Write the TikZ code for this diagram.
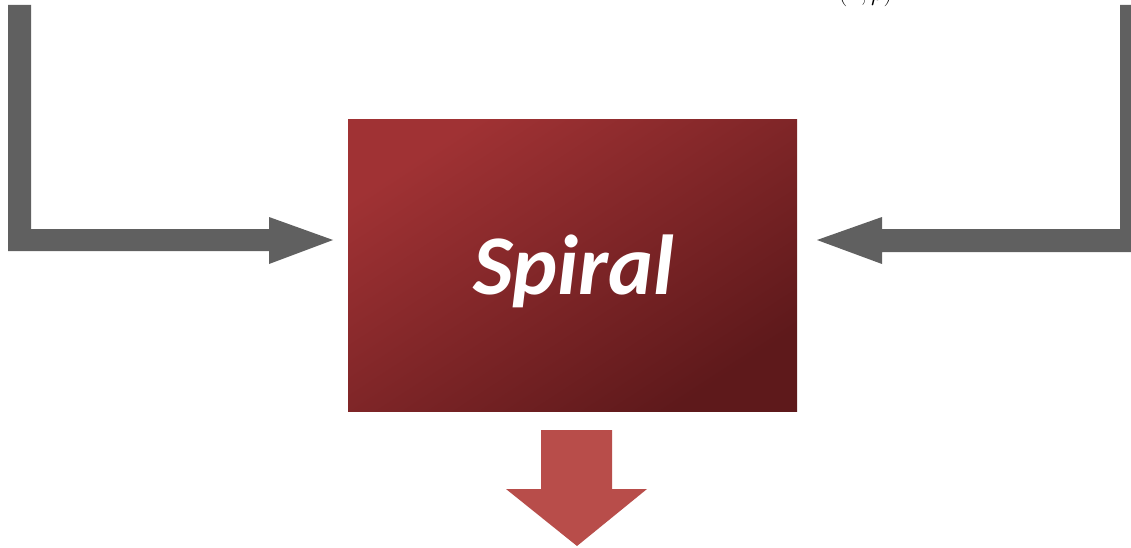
\documentclass[tikz,border=0pt]{standalone}
\usepackage{fontspec}
\setmainfont{Carlito}
\usetikzlibrary{calc}
\definecolor{arrowgray}{HTML}{606060}
\definecolor{boxtop}{HTML}{A03234}
\definecolor{boxbot}{HTML}{5E191B}
\definecolor{downred}{HTML}{B84D4A}
\tikzset{
  grayarrow/.style={fill=arrowgray, draw=none},
  redarrow/.style={fill=downred, draw=none},
}
\begin{document}
\begin{tikzpicture}[x=1pt,y=-1pt]
\useasboundingbox (0,0) rectangle (1131,548);
\clip (0,0) rectangle (1131,548);
\fill[white] (0,0) rectangle (1131,548);
% central box
\shade[shading=axis, top color=boxtop, bottom color=boxbot, shading angle=33] (348,120) rectangle (797,411);
\node[minimum width=449pt, minimum height=291pt, inner sep=0pt, anchor=north west] (spiral) at (348,120) {};
\node[text=white, font=\fontsize{85}{90}\selectfont\bfseries\itshape] at ($(spiral.center)+(1,6)$) {Spiral};
% top partial label
\node[anchor=base, font=\fontsize{34}{36}\selectfont] (lbl) at (860,1) {$\cdot\,(I,\rho)$};
% left arrow
\fill[grayarrow] (8,5) -- (31,5) -- (31,229) -- (269,229) -- (269,217) -- (333,240) -- (269,264) -- (269,251) -- (8,251) -- cycle;
% right arrow
\fill[grayarrow] (1142,5) -- (1120,5) -- (1120,229) -- (882,229) -- (882,217) -- (817,240) -- (882,264) -- (882,252) -- (1142,252) -- cycle;
% down arrow
\fill[redarrow] (541,430) -- (612,430) -- (612,489) -- (647,489) -- (577,546) -- (506,489) -- (541,489) -- cycle;
\end{tikzpicture}
\end{document}
